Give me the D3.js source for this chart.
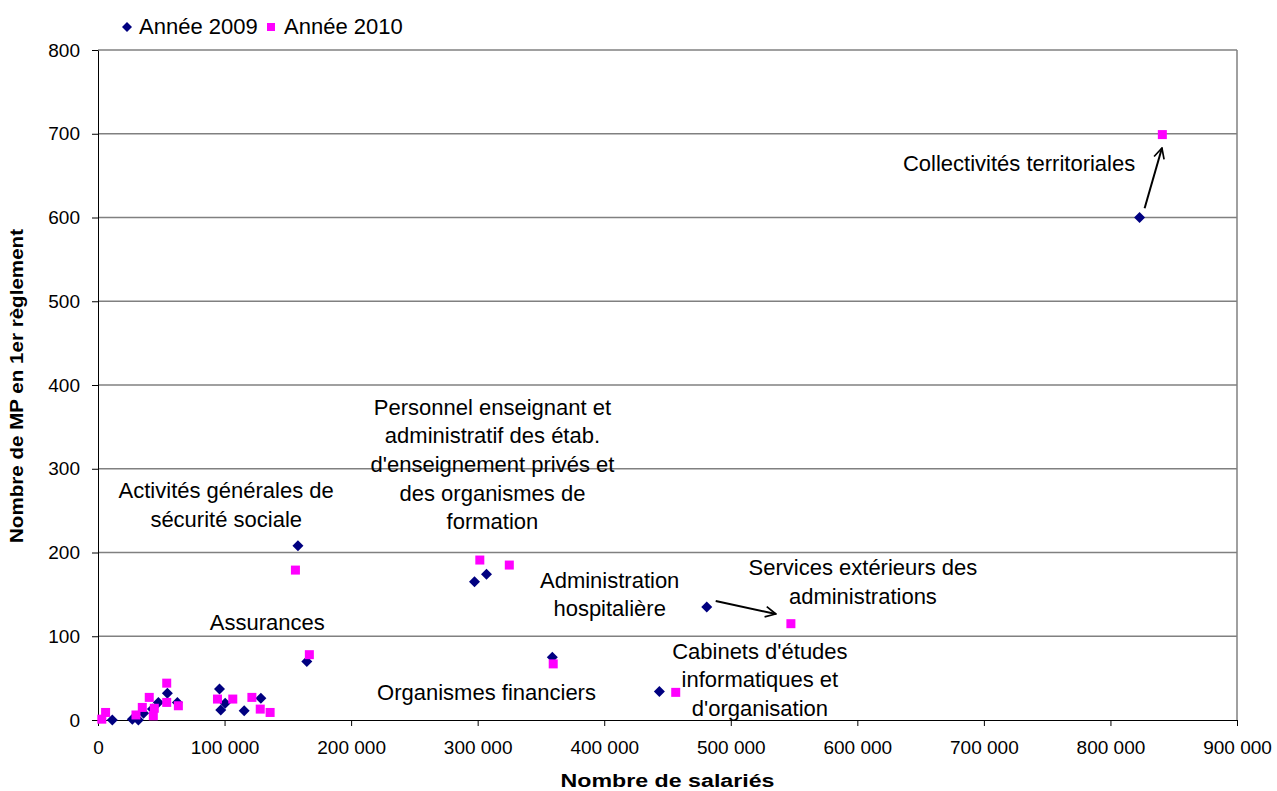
<!DOCTYPE html>
<html>
<head>
<meta charset="utf-8">
<script src="https://cdn.jsdelivr.net/npm/d3@7"></script>
<style>
  body { margin: 0; background: #fff; }
  text { font-family: "Liberation Sans", Arial, sans-serif; }
</style>
</head>
<body>
<div id="chart"></div>
<script>
// data
let x2009 = [11300, 27100, 31900, 36000, 43000, 47700, 54800, 62700, 96000, 97000, 100500, 115500, 128700,
             158000, 165000, 297500, 307000, 359000, 443600, 481000, 823000];
let y2009 = [0, 1, 0, 8, 13, 21, 32, 21, 37, 12, 20, 11, 26,
             208, 70, 165, 174, 75, 34, 135, 600];
let x2010 = [3000, 6000, 30000, 35000, 40500, 44500, 43700, 54300, 54300, 63500, 94400, 106500, 121600, 128200, 136000,
             156000, 167000, 301700, 325000, 359700, 456500, 547500, 841000];
let y2010 = [1, 9, 6, 15, 27, 14, 5, 44, 21, 17, 25, 25, 27, 13, 9,
             179, 78, 191, 185, 67, 33, 115, 699];
let xTicks = [0, 100000, 200000, 300000, 400000, 500000, 600000, 700000, 800000, 900000];
let yTicks = [0, 100, 200, 300, 400, 500, 600, 700, 800];
let seriesNames = ["Année 2009", "Année 2010"];

// labels, anchored in data units
let labels = [
    {lines: ["Collectivités territoriales"], x: 727800, y: 656},
    {lines: ["Personnel enseignant et", "administratif des étab.", "d'enseignement privés et", "des organismes de", "formation"], x: 311700, y: 364.5},
    {lines: ["Activités générales de", "sécurité sociale"], x: 101300, y: 265},
    {lines: ["Administration", "hospitalière"], x: 404300, y: 158},
    {lines: ["Services extérieurs des", "administrations"], x: 604400, y: 173},
    {lines: ["Assurances"], x: 133700, y: 107.5},
    {lines: ["Organismes financiers"], x: 307000, y: 24},
    {lines: ["Cabinets d'études", "informatiques et", "d'organisation"], x: 523000, y: 73}
];
let arrows = [
    {x1: 827000, y1: 611, x2: 840700, y2: 683},
    {x1: 488100, y1: 142, x2: 535600, y2: 126.6}
];

let width = 1277, height = 791;
let margin = {top: 50, right: 40, bottom: 71, left: 98};
let chartWidth = width - margin.left - margin.right;
let chartHeight = height - margin.top - margin.bottom;

let svg = d3.select("#chart").append("svg").attr("width", width).attr("height", height);
let chartGroup = svg.append("g").attr("transform", `translate(${margin.left}, ${margin.top})`);

let xScale = d3.scaleLinear().domain([0, 900000]).range([0, chartWidth]);
let yScale = d3.scaleLinear().domain([0, 800]).range([chartHeight, 0]);

let fr = d3.formatLocale({decimal: ",", thousands: " ", grouping: [3], currency: ["", " €"]});
let fmt = fr.format(",d");

// gridlines
chartGroup.selectAll(".grid").data(yTicks.slice(1)).enter().append("line")
    .attr("x1", 0).attr("x2", chartWidth)
    .attr("y1", d => yScale(d)).attr("y2", d => yScale(d))
    .attr("stroke", "#808080").attr("stroke-width", 1.5);
chartGroup.append("line").attr("x1", chartWidth).attr("x2", chartWidth)
    .attr("y1", 0).attr("y2", chartHeight).attr("stroke", "#808080").attr("stroke-width", 1.5);

// axes
let xAxis = d3.axisBottom(xScale).tickValues(xTicks).tickFormat(fmt).tickSize(6).tickPadding(15).tickSizeOuter(0);
let yAxis = d3.axisLeft(yScale).tickValues(yTicks).tickSize(6).tickPadding(12).tickSizeOuter(0);
let gx = chartGroup.append("g").attr("transform", `translate(0, ${chartHeight})`).call(xAxis);
let gy = chartGroup.append("g").call(yAxis);
[gx, gy].forEach(g => {
    g.selectAll("text").attr("font-size", "19px").attr("fill", "#000")
        .style("font-family", "'Liberation Sans', Arial, sans-serif");
    g.selectAll("line, path").attr("stroke", "#000");
});

// points
let diamond = "M0,-5.5L5.5,0L0,5.5L-5.5,0Z";
chartGroup.selectAll(".p2009").data(x2009).enter().append("path")
    .attr("d", diamond)
    .attr("transform", (d, i) => `translate(${xScale(x2009[i])}, ${yScale(y2009[i])})`)
    .attr("fill", "#000080");
chartGroup.selectAll(".p2010").data(x2010).enter().append("rect")
    .attr("x", (d, i) => xScale(x2010[i]) - 4.5)
    .attr("y", (d, i) => yScale(y2010[i]) - 4.5)
    .attr("width", 9).attr("height", 9)
    .attr("fill", "#ff00ff");

// arrows
svg.append("defs").append("marker").attr("id", "head")
    .attr("viewBox", "0 0 10 10").attr("refX", 9).attr("refY", 5)
    .attr("markerWidth", 6.5).attr("markerHeight", 6.5).attr("orient", "auto")
    .append("path").attr("d", "M1,1L9,5L1,9").attr("fill", "none").attr("stroke", "#000").attr("stroke-width", 1.3);
chartGroup.selectAll(".arrow").data(arrows).enter().append("line")
    .attr("x1", d => xScale(d.x1)).attr("y1", d => yScale(d.y1))
    .attr("x2", d => xScale(d.x2)).attr("y2", d => yScale(d.y2))
    .attr("stroke", "#000").attr("stroke-width", 2).attr("marker-end", "url(#head)");

// labels
labels.forEach(l => {
    let t = chartGroup.append("text").attr("text-anchor", "middle").attr("font-size", "22px")
        .attr("x", xScale(l.x)).attr("y", yScale(l.y));
    l.lines.forEach((s, i) => {
        t.append("tspan").attr("x", xScale(l.x)).attr("dy", i === 0 ? 0 : 28.6).text(s);
    });
});

// axis titles (glyphs are wide in the original, so stretch to its length)
svg.append("text").attr("x", margin.left + xScale(450000)).attr("y", 787)
    .attr("text-anchor", "middle").attr("font-size", "18px").attr("font-weight", "bold")
    .attr("textLength", 214).attr("lengthAdjust", "spacingAndGlyphs")
    .text("Nombre de salariés");
svg.append("text").attr("transform", "rotate(-90)").attr("x", -386).attr("y", 23)
    .attr("text-anchor", "middle").attr("font-size", "18px").attr("font-weight", "bold")
    .attr("textLength", 314).attr("lengthAdjust", "spacingAndGlyphs")
    .text("Nombre de MP en 1er règlement");

// legend
let legend = svg.append("g");
legend.append("path").attr("d", "M0,-5L5,0L0,5L-5,0Z").attr("transform", "translate(127, 27)").attr("fill", "#000080");
legend.append("text").attr("x", 139).attr("y", 34).attr("font-size", "22px").text(seriesNames[0]);
legend.append("rect").attr("x", 267).attr("y", 23).attr("width", 8).attr("height", 8).attr("fill", "#ff00ff");
legend.append("text").attr("x", 284).attr("y", 34).attr("font-size", "22px").text(seriesNames[1]);
</script>
</body>
</html>
